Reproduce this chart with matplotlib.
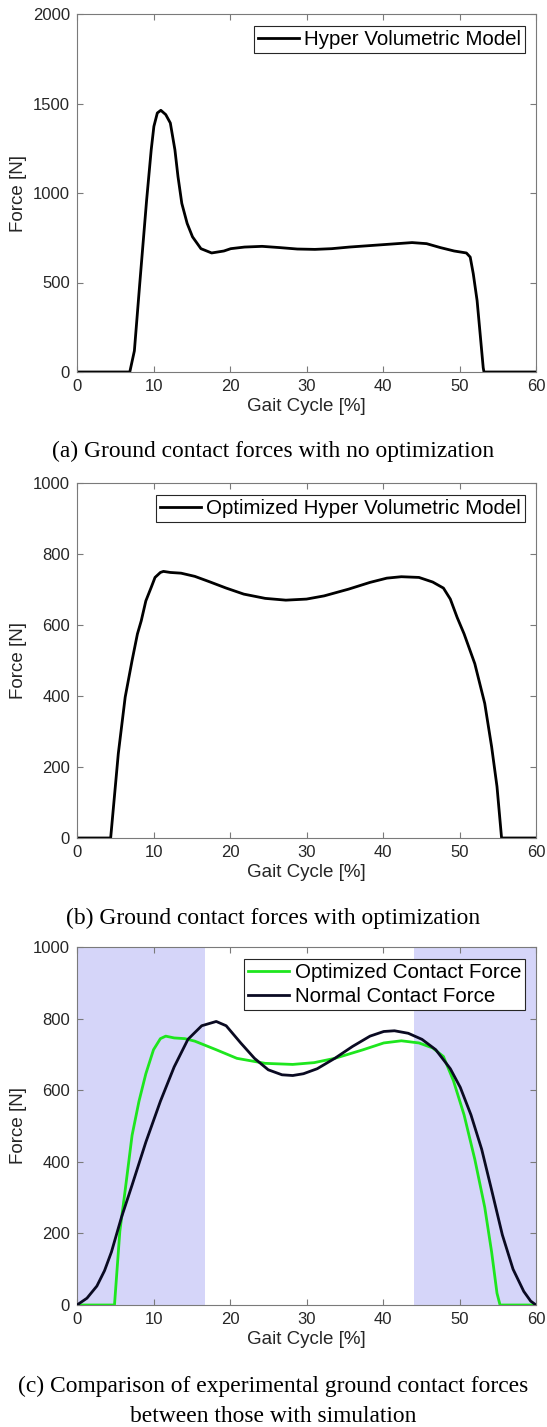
import matplotlib
matplotlib.use('Agg')
import matplotlib.pyplot as plt

# ---------------- data ----------------
x_ticks = [0, 10, 20, 30, 40, 50, 60]
y_ticks_a = [0, 500, 1000, 1500, 2000]
y_ticks_bc = [0, 200, 400, 600, 800, 1000]

# (a) Hyper Volumetric Model
hv_x = [0, 6.9, 7.5, 8.2, 9.1, 9.7, 10.05, 10.5, 10.96, 11.6, 12.2, 12.8, 13.2,
        13.7, 14.4, 15.1, 16.2, 17.6, 19.2, 20.1, 21.9, 24.2, 26.5, 28.8, 31.1,
        33.3, 35.6, 40.2, 43.8, 45.7, 47.5, 49.3, 50.9, 51.4, 51.8, 52.3, 52.7,
        53.1, 53.2, 60]
hv_y = [0, 0, 118, 492, 960, 1241, 1372, 1447, 1462, 1438, 1391, 1241, 1092,
        942, 830, 755, 689, 665, 676, 689, 698, 702, 695, 687, 685,
        689, 698, 712, 723, 717, 695, 676, 665, 642, 549, 399, 212,
        24, 0, 0]

# (b) Optimized Hyper Volumetric Model
ohv_x = [0, 4.4, 5.4, 6.3, 7.2, 7.9, 8.4, 9.0, 9.7, 10.2, 10.9, 11.3, 12.2, 13.6,
         15.4, 17.3, 19.5, 21.8, 24.6, 27.3, 30.0, 32.3, 35.5, 38.3, 40.5, 42.4,
         44.7, 46.5, 47.9, 48.8, 49.7, 50.6, 52.0, 53.3, 54.2, 54.9, 55.5, 60]
ohv_y = [0, 0, 238, 397, 500, 575, 612, 668, 706, 734, 748, 751, 748, 746,
         737, 722, 704, 687, 675, 670, 673, 682, 701, 720, 732, 736,
         734, 721, 704, 673, 621, 575, 491, 379, 257, 145, 0, 0]

# (c) Comparison
opt_x = [0, 4.9, 5.6, 6.3, 7.2, 8.1, 9.0, 10.0, 10.9, 11.6, 12.7, 14.1, 15.4, 18.2,
         20.9, 24.6, 28.2, 31.0, 33.7, 37.4, 40.1, 42.4, 44.7, 46.5, 47.9, 49.2,
         50.6, 52.0, 53.3, 54.2, 54.9, 55.3, 60]
opt_y = [0, 0, 206, 321, 474, 569, 646, 713, 744, 751, 746, 744, 737, 713,
         689, 675, 672, 677, 689, 713, 732, 738, 732, 718, 694, 627,
         531, 407, 273, 148, 33, 0, 0]

norm_x = [0, 1.3, 2.6, 3.6, 4.5, 5.8, 7.2, 9.0, 10.9, 12.7, 14.5, 16.3, 18.2, 19.5,
          21.4, 23.2, 25.0, 26.8, 28.2, 29.6, 31.4, 33.7, 36.0, 38.3, 40.1, 41.5,
          43.3, 45.1, 46.9, 48.8, 50.1, 51.5, 52.9, 54.2, 55.6, 57.0, 58.4, 59.3, 60]
norm_y = [0, 19, 53, 96, 148, 244, 335, 455, 569, 665, 742, 780, 792, 780,
          732, 689, 657, 643, 641, 646, 660, 689, 722, 751, 764, 766,
          759, 742, 713, 660, 608, 531, 435, 321, 196, 100, 38, 11, 0]

shade_regions = [(0, 16.7), (44.1, 60)]

captions = ["(a) Ground contact forces with no optimization",
            "(b) Ground contact forces with optimization",
            "(c) Comparison of experimental ground contact forces\nbetween those with simulation"]

# ---------------- figure ----------------
W, H = 547, 1427
fig = plt.figure(figsize=(W / 100, H / 100), dpi=100)
fig.patch.set_facecolor('white')

SANS = ['Liberation Sans', 'DejaVu Sans']
SERIF = ['Liberation Serif', 'DejaVu Serif']
plt.rcParams['font.family'] = SANS

AX_L, AX_R = 77, 536
boxes = [(14, 372), (483, 838), (947, 1305)]


def make_ax(top, bottom):
    ax = fig.add_axes([AX_L / W, (H - bottom) / H, (AX_R - AX_L) / W, (bottom - top) / H])
    for s in ax.spines.values():
        s.set_color('#7a7a7a')
        s.set_linewidth(0.8)
    ax.tick_params(direction='in', top=True, right=True, length=4, width=0.8,
                   color='#7a7a7a', labelsize=12, labelcolor='#262626', pad=5)
    ax.set_xlim(0, 60)
    ax.set_xticks(x_ticks)
    ax.set_xlabel('Gait Cycle [%]', fontsize=13.5, color='#262626', labelpad=3)
    ax.set_ylabel('Force [N]', fontsize=13.5, color='#262626', labelpad=4)
    return ax


def add_legend(ax):
    top_px = 12
    leg = ax.legend(loc='upper right',
                    bbox_to_anchor=((525 - AX_L) / (AX_R - AX_L), 1 - top_px / 358),
                    borderaxespad=0, fontsize=14.8, frameon=True, fancybox=False,
                    framealpha=1, edgecolor='#262626', borderpad=0.2,
                    labelspacing=0.25, handlelength=2.0, handletextpad=0.25)
    leg.get_frame().set_linewidth(0.8)
    return leg


# (a)
ax1 = make_ax(*boxes[0])
ax1.plot(hv_x, hv_y, color='black', lw=2, label='Hyper Volumetric Model')
ax1.set_ylim(0, 2000)
ax1.set_yticks(y_ticks_a)
add_legend(ax1)

# (b)
ax2 = make_ax(*boxes[1])
ax2.plot(ohv_x, ohv_y, color='black', lw=2, label='Optimized Hyper Volumetric Model')
ax2.set_ylim(0, 1000)
ax2.set_yticks(y_ticks_bc)
add_legend(ax2)

# (c)
ax3 = make_ax(*boxes[2])
for a, b in shade_regions:
    ax3.axvspan(a, b, color='#d5d5f9', lw=0, zorder=0)
ax3.plot(opt_x, opt_y, color='#1ee61e', lw=2, label='Optimized Contact Force', zorder=3)
ax3.plot(norm_x, norm_y, color='#0a0a22', lw=2, label='Normal Contact Force', zorder=4)
ax3.set_ylim(0, 1000)
ax3.set_yticks(y_ticks_bc)
add_legend(ax3)

# captions
cap_base = [457, 924, 1392]
for txt, yb in zip(captions, cap_base):
    lines = txt.split('\n')
    for i, ln in enumerate(lines):
        fig.text(0.5, 1 - (yb + 30 * i) / H, ln, ha='center', va='baseline',
                 fontsize=16.9, family=SERIF, color='black')

fig.savefig('out.png', dpi=100)
